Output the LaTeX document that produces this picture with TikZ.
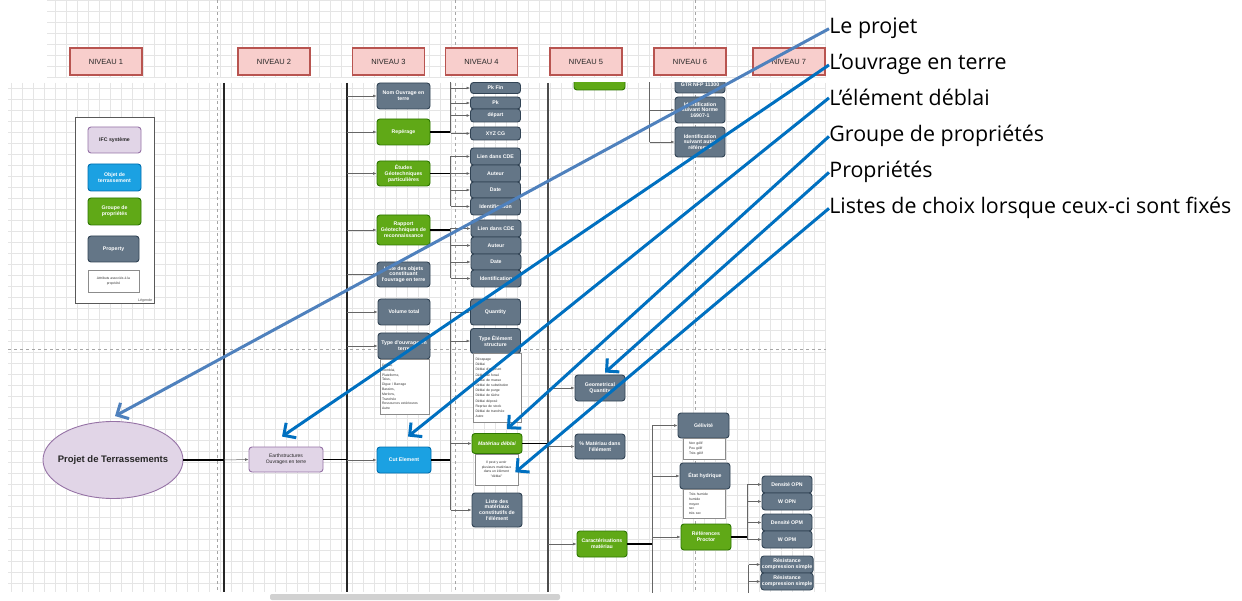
\documentclass[tikz,border=0pt]{standalone}
\usepackage{fontspec}
\usetikzlibrary{shapes.geometric,arrows.meta,calc}
\newfontfamily\diagfont{Liberation Sans}
\newfontfamily\notefont{Open Sans}

\definecolor{nivfill}{HTML}{F8CECC}
\definecolor{nivline}{HTML}{B85450}
\definecolor{ifcfill}{HTML}{E1D5E7}
\definecolor{ifcline}{HTML}{9673A6}
\definecolor{objfill}{HTML}{1BA1E2}
\definecolor{objline}{HTML}{006EAF}
\definecolor{grpfill}{HTML}{60A917}
\definecolor{grpline}{HTML}{2D7600}
\definecolor{propfill}{HTML}{647687}
\definecolor{propline}{HTML}{314354}
\definecolor{callone}{HTML}{4F81BD}
\definecolor{calltwo}{HTML}{0070C0}

\tikzset{every picture/.style={line width=0.75pt}}
\tikzset{
  wh/.style 2 args={minimum width=#1pt, minimum height=#2pt},
  gridline/.style={draw=black!10, line width=0.4pt, step=11},
  pagebreak/.style={draw=black!35, line width=0.6pt, dash pattern=on 3pt off 3pt},
  wall/.style={draw=black!85, line width=1.3pt},
  feed/.style={draw=black, line width=1.4pt},
  bus/.style={draw=black!60, line width=0.5pt},
  link/.style={draw=black!60, line width=0.5pt, -{Latex[length=3.5pt,width=2.8pt]}},
  box/.style={rounded corners=3pt, line width=0.9pt, align=center, inner sep=1pt, text=white,
    font=\diagfont\bfseries\fontsize{5.2}{5.8}\selectfont},
  niveau/.style={draw=nivline, fill=nivfill, line width=1.3pt, wh={72}{27},
    font=\diagfont\fontsize{7.5}{8}\selectfont, text=black!85},
  systeme/.style={box, draw=ifcline, fill=ifcfill, text=black!85},
  objet/.style={box, draw=objline, fill=objfill},
  groupe/.style={box, draw=grpline, fill=grpfill},
  propriete/.style={box, draw=propline, fill=propfill},
  attribut/.style={draw=black!45, fill=white, line width=0.6pt, align=left, inner sep=2pt,
    text=black!80, font=\diagfont\fontsize{3.4}{4.8}\selectfont, anchor=north},
  legende/.style={draw=black!65, line width=1pt, fill=white},
  remark/.style={anchor=base west, inner sep=0pt, text=black, font=\notefont\fontsize{21.4}{26}\selectfont},
  pointer/.style={line width=3pt, -{Straight Barb[length=9pt,width=18pt]}}
}

\begin{document}
\begin{tikzpicture}[x=1pt,y=1pt,yscale=-1,xscale=1]
	\useasboundingbox (0,0) rectangle (1242,601);
	\fill[white] (0,0) rectangle (1242,601);

	%Shape: Grid [top strip]
	\draw[gridline] (47,0) grid (826,78);
	\draw[pagebreak] (217,0) -- (217,78);
	\draw[pagebreak] (455,0) -- (455,78);
	\draw[pagebreak] (695,0) -- (695,78);

	% Text Node
	\node[niveau] (niv1) at (106,61.5) {NIVEAU 1};
	\node[niveau] (niv2) at (274,61.5) {NIVEAU 2};
	\node[niveau] (niv3) at (388.5,61.5) {NIVEAU 3};
	\node[niveau] (niv4) at (481.5,61.5) {NIVEAU 4};
	\node[niveau] (niv5) at (586,61.5) {NIVEAU 5};
	\node[niveau] (niv6) at (690,61.5) {NIVEAU 6};
	\node[niveau] (niv7) at (789,61.5) {NIVEAU 7};

	\begin{scope}
	\clip (8,83) rectangle (826,592);
	%Shape: Grid [main]
	\draw[gridline] (8,83) grid (826,592);
	\draw[pagebreak] (8,349) -- (826,349);
	\draw[pagebreak] (217,83) -- (217,592);
	\draw[pagebreak] (455,83) -- (455,592);
	\draw[pagebreak] (695,83) -- (695,592);

	%Straight Lines [columns]
	\draw[wall] (224,83) -- (224,592);
	\draw[wall] (347,83) -- (347,592);
	\draw[wall, draw=black!70] (548,83) -- (548,592);
	\coordinate (b2) at (224,460);
	\coordinate (b3) at (347,83);
	\coordinate (b4) at (450.5,80);
	\coordinate (b5) at (548,83);
	\coordinate (b6) at (649.5,80);
	\coordinate (b6b) at (652,595);
	\coordinate (b7) at (747,83);
	\coordinate (b7b) at (748.5,595);

	%Shape: Legend
	\node[legende, wh={79}{186}] (legende) at (114.5,211) {};
	\node[anchor=south east, inner sep=1pt, text=black!70, font=\diagfont\fontsize{3.6}{4}\selectfont] (legtitre) at (153.5,303.5) {Légende};
	\node[systeme, wh={53}{26}] (legifc) at (114.5,140) {IFC système};
	\node[objet, wh={53}{27}] (legobj) at (114.5,177.5) {Objet de\\terrassement};
	\node[groupe, wh={53}{27}] (leggrp) at (114.5,211.5) {Groupe de\\propriétés};
	\node[propriete, wh={51}{26}] (legprop) at (113.5,249) {Property};
	\node[attribut, anchor=center, align=center, wh={51}{22}] (legattr) at (113.5,281) {Attributs associés à la\\propriété};

	%Shape: Ellipse
	\node[systeme, ellipse, inner sep=0pt, wh={140}{77}, font=\diagfont\bfseries\fontsize{9.5}{11}\selectfont] (projet) at (113,460) {\makebox[0pt]{Projet de Terrassements}};
	% Text Node
	\node[systeme, wh={74}{25}, font=\diagfont\fontsize{5}{5.8}\selectfont] (earth) at (286,459.5) {Earthstructures\\Ouvrages en terre};

	% Niveau 3
	\node[propriete, wh={53}{26}] (nom) at (403.5,96) {Nom Ouvrage en\\terre};
	\node[groupe, wh={53}{26}] (reperage) at (403.5,132) {Repérage};
	\node[groupe, wh={53}{25}] (etudes) at (403.5,173.5) {Études\\Géotechniques\\particulières};
	\node[groupe, wh={53}{30}] (rapport) at (403.5,230) {Rapport\\Géotechniques de\\reconnaissance};
	\node[propriete, wh={53}{25}] (liste) at (403.5,274.5) {Liste des objets\\constituant\\l'ouvrage en terre};
	\node[propriete, wh={52}{26}] (volume) at (404,312) {Volume total};
	\node[propriete, wh={52}{26}] (typeouv) at (404,346) {Type d'ouvrage en\\terre};
	\node[attribut, text width=45pt, minimum height=55pt] (typeouvl) at (404.5,359) {Déblai,\\Remblai,\\Plateforme,\\Talus,\\Digue / Barrage\\Bassins,\\Merlons,\\Tranchée\\Ressources extérieures\\Autre};
	\node[objet, wh={54}{26}] (cut) at (404,460) {Cut Element};

	% Niveau 4
	\node[propriete, wh={50}{11}] (pkfin) at (495.5,88) {Pk Fin};
	\node[propriete, wh={50}{12}] (pk) at (495.5,103) {Pk};
	\node[propriete, wh={50}{13}] (depart) at (495.5,115.5) {départ};
	\node[propriete, wh={50}{13}] (xyz) at (495.5,133.5) {XYZ CG};
	\node[propriete, wh={50}{17}] (lien1) at (495.5,156.5) {Lien dans CDE};
	\node[propriete, wh={50}{17}] (auteur1) at (495.5,173.5) {Auteur};
	\node[propriete, wh={50}{16}] (date1) at (495.5,190) {Date};
	\node[propriete, wh={50}{17}] (ident1) at (495.5,206.5) {Identification};
	\node[propriete, wh={50}{17}] (lien2) at (496,228.5) {Lien dans CDE};
	\node[propriete, wh={50}{17}] (auteur2) at (496,245.5) {Auteur};
	\node[propriete, wh={50}{16}] (date2) at (496,262) {Date};
	\node[propriete, wh={50}{17}] (ident2) at (496,278.5) {Identification};
	\node[propriete, wh={50}{26}] (quantity) at (495.5,312) {Quantity};
	\node[propriete, wh={50}{25}] (typeel) at (495.5,341) {Type Élément\\structure};
	\node[attribut, text width=44pt, minimum height=68pt, font=\diagfont\fontsize{3.4}{5.2}\selectfont] (typeell) at (497.5,353.5) {Décapage\\Déblai\\Déblai d'emprunt\\Déblai de fossé\\Déblai de masse\\Déblai de substitution\\Déblai de purge\\Déblai de tâche\\Déblai déposé\\Reprise de stock\\Déblai de tranchée\\Autre};
	\node[groupe, wh={50}{20}, font=\diagfont\bfseries\itshape\fontsize{5.2}{5.8}\selectfont] (materiau) at (497,443.5) {Matériau déblai};
	\node[attribut, align=center, wh={43}{31}] (note) at (496.5,453.5) {Il peut y avoir\\plusieurs matériaux\\dans un élément\\"déblai"};
	\node[propriete, wh={50}{34}] (listemat) at (497,510) {Liste des\\matériaux\\constitutifs de\\l'élément};

	% Niveau 5
	\node[groupe, wh={51}{20}] (grp5) at (599.5,80) {};
	\node[propriete, wh={50}{26}] (geom) at (600,388) {Geometrical\\Quantity};
	\node[propriete, wh={50}{25}] (pct) at (600,446.5) {\% Matériau dans\\l'élément};
	\node[groupe, wh={50}{26}] (carac) at (602,544) {Caractérisations\\matériau};

	% Niveau 6
	\node[propriete, wh={50}{16}] (gtr) at (700,85) {GTR NFP 11300};
	\node[propriete, wh={50}{26}] (identn) at (700,110) {Identification\\suivant Norme\\16907-1};
	\node[propriete, wh={50}{30}] (identa) at (700,142) {Identification\\suivant autre\\référence};
	\node[propriete, wh={51}{25}] (geliv) at (703.5,425.5) {Gélivité};
	\node[attribut, text width=30pt, minimum height=21pt, inner xsep=6pt] (gelivl) at (704,438) {Non gélif\\Peu gélif\\Très gélif};
	\node[propriete, wh={50}{26}] (hydr) at (705,476) {État hydrique};
	\node[attribut, text width=30pt, minimum height=29pt, inner xsep=6pt] (hydrl) at (704,489) {Très humide\\humide\\moyen\\sec\\très sec};
	\node[groupe, wh={50}{26}] (proctor) at (706,537) {Références\\Proctor};

	% Niveau 7
	\node[propriete, wh={50}{17}] (dopn) at (787,484.5) {Densité OPN};
	\node[propriete, wh={50}{17}] (wopn) at (787,501.5) {W OPN};
	\node[propriete, wh={50}{17}] (dopm) at (787,522.5) {Densité OPM};
	\node[propriete, wh={50}{17}] (wopm) at (787,539.5) {W OPM};
	\node[propriete, wh={50}{17}] (res1) at (787,564.5) {Résistance\\compression simple};
	\node[propriete, wh={50}{17}] (res2) at (787,581.5) {Résistance\\compression simple};

	%Straight Lines [connectors]
	\draw[feed] (projet.east) -- (b2);
	\draw[link] (b2) -- (earth.west);
	\draw[feed] (earth.east) -- (earth.east -| b3);
	\foreach \nd in {nom,reperage,etudes,rapport,liste,volume,typeouv,cut}
		\draw[link] (b3 |- \nd.west) -- (\nd.west);

	\draw[feed] (reperage.east) -- (reperage.east -| b4);
	\draw[bus] (b4) -- (b4 |- xyz.west);
	\foreach \nd in {pkfin,pk,depart,xyz}
		\draw[link] (b4 |- \nd.west) -- (\nd.west);
	\draw[feed] (etudes.east) -- (etudes.east -| b4);
	\draw[bus] (b4 |- lien1.west) -- (b4 |- ident1.west);
	\foreach \nd in {lien1,auteur1,date1,ident1}
		\draw[link] (b4 |- \nd.west) -- (\nd.west);
	\draw[feed] (rapport.east) -- (rapport.east -| b4);
	\draw[bus] (b4 |- lien2.west) -- (b4 |- ident2.west);
	\foreach \nd in {lien2,auteur2,date2,ident2}
		\draw[link] (b4 |- \nd.west) -- (\nd.west);
	\draw[feed] (cut.east) -- (cut.east -| b4);
	\draw[bus] (b4 |- quantity.west) -- (b4 |- listemat.west);
	\foreach \nd in {quantity,typeel,materiau,listemat}
		\draw[link] (b4 |- \nd.west) -- (\nd.west);

	\draw[feed] (materiau.east) -- (materiau.east -| b5);
	\foreach \nd in {geom,pct,carac}
		\draw[link] (b5 |- \nd.west) -- (\nd.west);

	\draw[bus] (b6) -- (b6 |- identa.west);
	\foreach \nd in {identn,identa}
		\draw[link] (b6 |- \nd.west) -- (\nd.west);
	\draw[feed] (carac.east) -- (carac.east -| b6b);
	\draw[bus] (b6b |- geliv.west) -- (b6b);
	\foreach \nd in {geliv,hydr,proctor}
		\draw[link] (b6b |- \nd.west) -- (\nd.west);

	\draw[feed] (proctor.east) -- (proctor.east -| b7);
	\draw[bus] (b7 |- dopn.west) -- (b7 |- wopm.west);
	\foreach \nd in {dopn,wopn,dopm,wopm}
		\draw[link] (b7 |- \nd.west) -- (\nd.west);
	\draw[bus] (b7b |- res1.west) -- (b7b);
	\foreach \nd in {res1,res2}
		\draw[link] (b7b |- \nd.west) -- (\nd.west);
	\end{scope}

	%Shape: Scrollbar
	\fill[black!18, rounded corners=2pt] (270,594) rectangle (560,600);

	% Text Node [remarks]
	\node[remark] (lprojet) at (829,34) {Le projet};
	\node[remark] (louvrage) at (829,70) {L’ouvrage en terre};
	\node[remark] (lelement) at (829,106) {L’élément déblai};
	\node[remark] (lgroupe) at (829,142) {Groupe de propriétés};
	\node[remark] (lprops) at (829,178) {Propriétés};
	\node[remark] (llistes) at (829,214) {Listes de choix lorsque ceux-ci sont fixés};

	%Straight Lines [pointers]
	\draw[pointer, draw=callone] (lprojet.west) -- ($(projet.north)+(2,-5)$);
	\draw[pointer, draw=calltwo] (louvrage.west) -- ($(earth.north)+(-4,-10)$);
	\draw[pointer, draw=calltwo] (lelement.west) -- ($(cut.north)+(4,-10)$);
	\draw[pointer, draw=calltwo] (lgroupe.west) -- ($(materiau.north)+(10,-4)$);
	\draw[pointer, draw=calltwo] (lprops.west) -- ($(geom.north)+(5,-2)$);
	\draw[pointer, draw=calltwo] (llistes.west) -- ($(note.east)+(-3,3)$);
\end{tikzpicture}
\end{document}
